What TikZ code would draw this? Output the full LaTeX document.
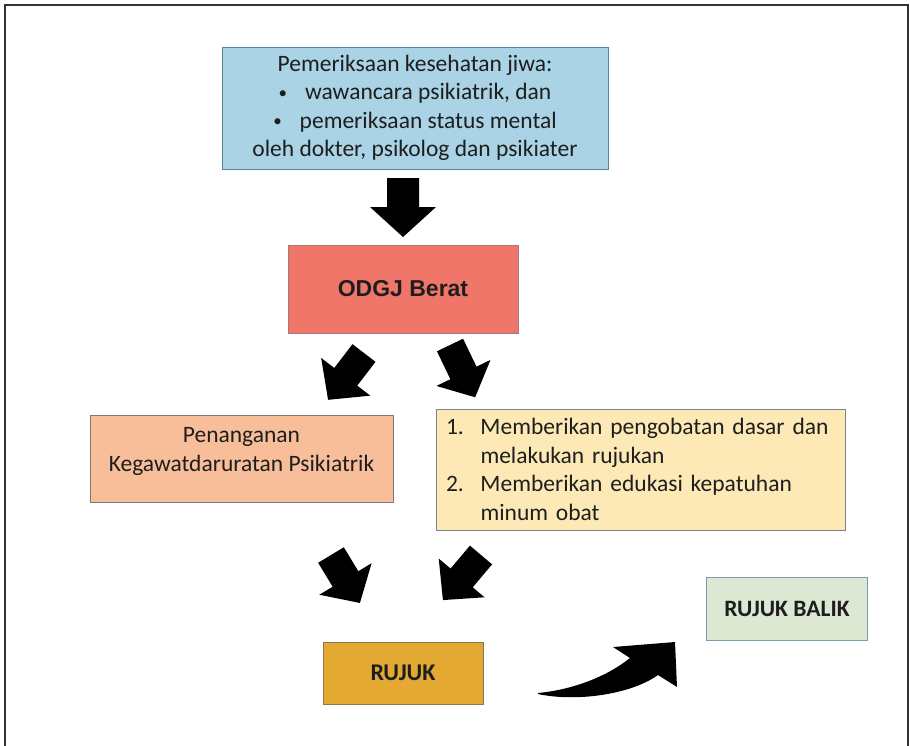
\documentclass[tikz,border=0pt]{standalone}
\usepackage{fontspec}
\setmainfont{Carlito}
\newfontfamily\arialfont{Liberation Sans}
\definecolor{examfill}{RGB}{170,211,229}
\definecolor{examdraw}{RGB}{95,130,155}
\definecolor{odgjfill}{RGB}{240,118,106}
\definecolor{odgjdraw}{RGB}{170,120,120}
\definecolor{penfill}{RGB}{248,190,154}
\definecolor{pendraw}{RGB}{130,120,115}
\definecolor{carefill}{RGB}{253,233,181}
\definecolor{caredraw}{RGB}{120,130,140}
\definecolor{rujukfill}{RGB}{228,169,50}
\definecolor{rujukdraw}{RGB}{140,120,80}
\definecolor{balikfill}{RGB}{221,232,211}
\definecolor{balikdraw}{RGB}{125,155,175}
\definecolor{txtcol}{RGB}{30,30,30}
\newcommand{\smallbullet}{\raisebox{1.5pt}{\fontsize{17}{17}\selectfont\textbullet}}
\begin{document}
\begin{tikzpicture}[x=1pt,y=1pt,
  box/.style={draw=#1, line width=1pt, inner sep=0pt},
  txt/.style={font=\fontsize{23.5}{28.5}\selectfont, align=center, text=txtcol},
  blockarr/.style={fill=black},
]
\newcommand{\blockarrow}[7]{%
  % #1 x, #2 y of tail centre, #3 angle, #4 length, #5 shaft width, #6 head width, #7 head length
  \begin{scope}[shift={(#1,#2)}, rotate=#3]
    \fill[blockarr] (0,-#5/2) -- ({#4-#7},-#5/2) -- ({#4-#7},-#6/2) -- (#4,0)
      -- ({#4-#7},#6/2) -- ({#4-#7},#5/2) -- (0,#5/2) -- cycle;
  \end{scope}}
\useasboundingbox (0,0) rectangle (910,-745);
\fill[white] (0,0) rectangle (910,-745);
\draw[line width=2.5pt, black!80] (5,-746) -- (5,-5) -- (908,-5) -- (908,-746);

% boxes
\node[box=examdraw, fill=examfill, minimum width=386, minimum height=122, txt] (exam) at (415,-108)
  {Pemeriksaan kesehatan jiwa:\\\smallbullet\hspace{18pt}wawancara psikiatrik, dan\\\smallbullet\hspace{18pt}pemeriksaan status mental\\oleh dokter, psikolog dan psikiater};

\node[box=odgjdraw, fill=odgjfill, minimum width=230, minimum height=88,
  font=\arialfont\bfseries\fontsize{23}{27}\selectfont, text=txtcol] (odgj) at (403,-289) {ODGJ Berat};

\node[box=pendraw, fill=penfill, minimum width=303, minimum height=87] (pen) at (241.5,-458.5) {};
\node[txt] (pentext) at ([yshift=7pt]pen.center) {Penanganan\\Kegawatdaruratan Psikiatrik};

\node[box=caredraw, fill=carefill, minimum width=409, minimum height=121,
  txt, align=left, text width=389] (care) at (640.5,-469.5)
  {\makebox[34.5pt][l]{1.}Memberikan pengobatan dasar dan\\\hspace*{34.5pt}melakukan rujukan\\\makebox[34.5pt][l]{2.}Memberikan edukasi kepatuhan\\\hspace*{34.5pt}minum obat};

\node[box=rujukdraw, fill=rujukfill, minimum width=160, minimum height=62,
  txt, font=\bfseries\fontsize{24}{28}\selectfont] (rujuk) at (403,-673) {RUJUK};

\node[box=balikdraw, fill=balikfill, minimum width=161, minimum height=63,
  txt, font=\bfseries\fontsize{23.5}{28}\selectfont] (balik) at (787,-608.5) {RUJUK BALIK};

% block arrows
\blockarrow{403}{-178}{-90}{59}{32}{66}{30}
\blockarrow{364}{-353}{-127.5}{59}{29}{62}{29}
\blockarrow{450}{-345}{-64.3}{58}{29}{60}{27}
\blockarrow{331}{-555}{-58.9}{56}{30}{61}{28}
\blockarrow{481}{-555}{-130.2}{59}{29}{60}{29}

% curved arrow
\fill[black] (538,-693) .. controls (570,-690) and (605,-678) .. (630,-658)
  -- (613,-647) -- (675,-642) -- (677,-687) -- (658,-675)
  .. controls (630,-695) and (575,-702) .. (538,-694) -- cycle;
\end{tikzpicture}
\end{document}
